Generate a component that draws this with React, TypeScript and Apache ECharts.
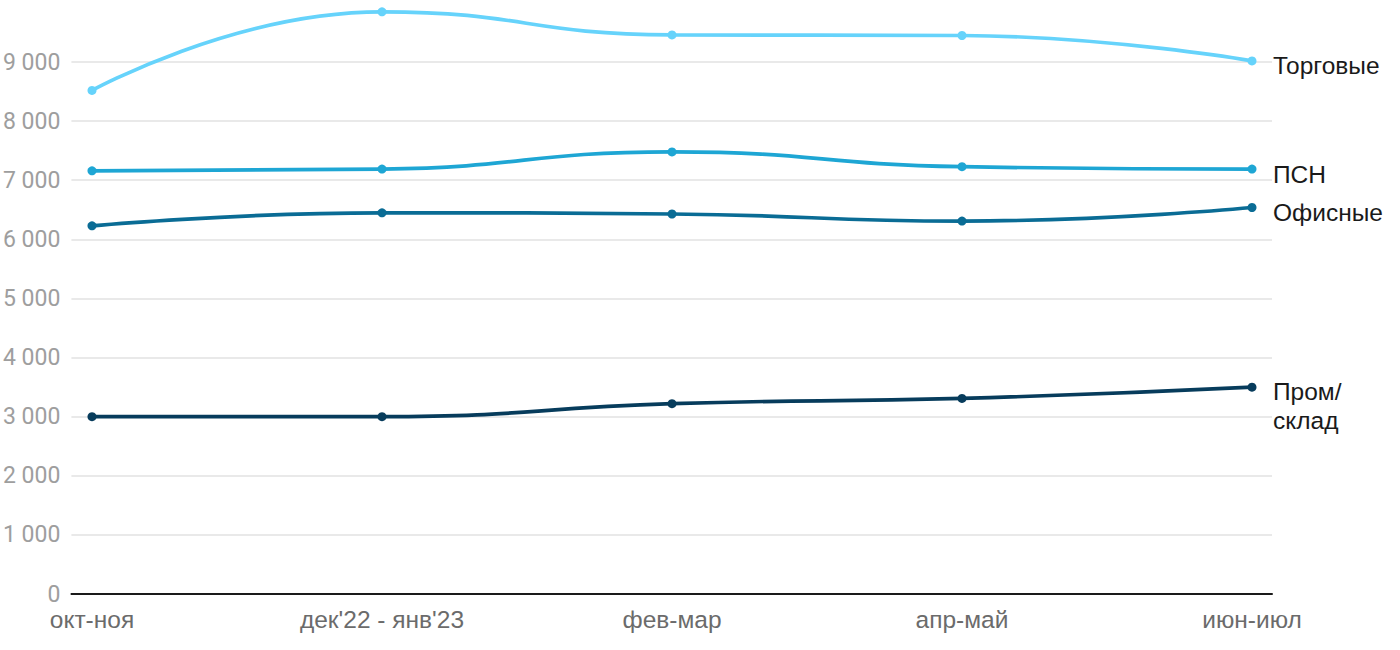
import React, { useEffect, useRef } from "react";
import * as echarts from "echarts";

const categories = ["окт-ноя", "дек'22 - янв'23", "фев-мар", "апр-май", "июн-июл"];
const seriesNames = ["Торговые", "ПСН", "Офисные", "Пром/склад"];
const endLabels = ["Торговые", "ПСН", "Офисные", "Пром/\nсклад"];
const torgovye = [8520, 9850, 9460, 9450, 9020];
const psn = [7160, 7190, 7480, 7230, 7190];
const ofisnye = [6230, 6450, 6430, 6310, 6540];
const prom = [3000, 3000, 3220, 3310, 3500];
const seriesData = [torgovye, psn, ofisnye, prom];
const colors = ["#66d3fb", "#1ea6d4", "#0a6c95", "#073c5c"];
const yTicksMax = 9000;

export default function App() {
  const ref = useRef<HTMLDivElement>(null);
  useEffect(() => {
    document.body.style.margin = "0";
    const chart = echarts.init(ref.current!, null, { renderer: "svg" });
    const fmt = (v: number) => String(v).replace(/\B(?=(\d{3})+(?!\d))/g, " ");
    chart.setOption({
      animation: false,
      grid: [
        { left: 71, right: 128, top: 62, bottom: 56 },
        { left: 92, right: 148, top: 3, bottom: 56 },
      ],
      xAxis: [
        {
          gridIndex: 0,
          type: "value",
          min: 0,
          max: 1,
          axisLine: { show: true, lineStyle: { color: "#1a1a1a", width: 2 } },
          axisTick: { show: false },
          axisLabel: { show: false },
          splitLine: { show: false },
        },
        {
          gridIndex: 1,
          type: "category",
          data: categories,
          boundaryGap: false,
          axisLine: { show: false },
          axisTick: { show: false },
          axisLabel: {
            color: "#6b6b6b",
            fontSize: 24.5,
            fontFamily: "Liberation Sans",
            margin: 13,
          },
        },
      ],
      yAxis: [
        {
          gridIndex: 0,
          type: "value",
          min: 0,
          max: yTicksMax,
          interval: 1000,
          axisLine: { show: false },
          axisTick: { show: false },
          axisLabel: {
            color: "#9e9e9e",
            fontSize: 23,
            fontFamily: "Roboto",
            margin: 11,
            formatter: fmt,
          },
          splitLine: { lineStyle: { color: "#e2e2e2", width: 1.5 } },
        },
        {
          gridIndex: 1,
          type: "value",
          min: 0,
          max: 10000,
          show: false,
          splitLine: { show: false },
        },
      ],
      series: seriesNames.map((name, i) => ({
        name,
        type: "line",
        xAxisIndex: 1,
        yAxisIndex: 1,
        data: seriesData[i],
        smooth: true,
        symbol: "circle",
        symbolSize: 9,
        color: colors[i],
        lineStyle: { width: 3.7, color: colors[i] },
        itemStyle: { color: colors[i] },
        endLabel: {
          show: true,
          formatter: () => endLabels[i],
          distance: 21,
          color: "#1a1a1a",
          fontSize: 24.5,
          lineHeight: 29,
          fontFamily: "Liberation Sans",
          offset: [0, i === 3 ? 19 : 5],
        },
      })),
    });
    return () => chart.dispose();
  }, []);
  return <div ref={ref} style={{ width: 1400, height: 650 }} />;
}
